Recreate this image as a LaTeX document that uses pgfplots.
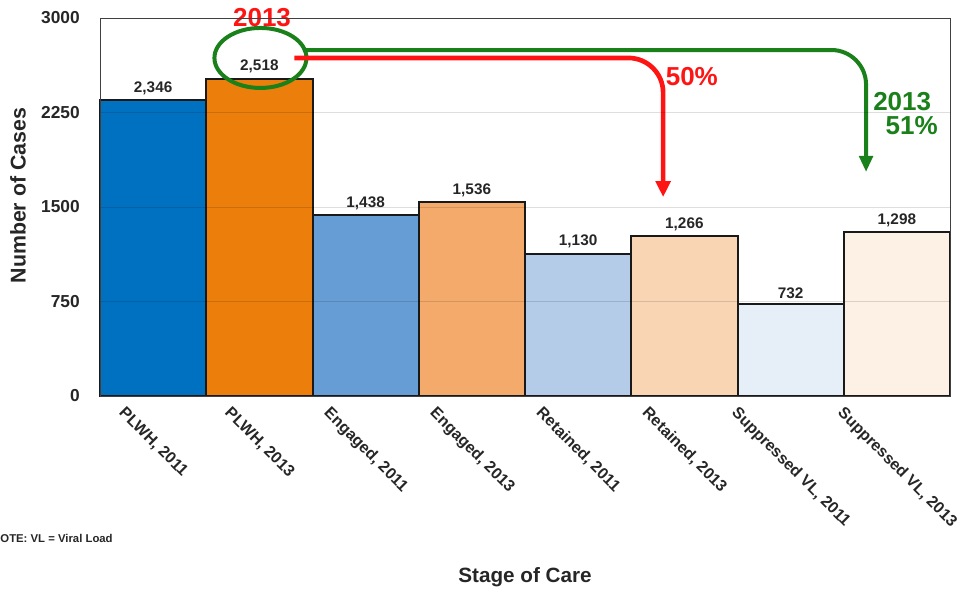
\documentclass[border=0pt]{standalone}
\usepackage{fontspec}
\setmainfont{Liberation Sans}
\usepackage{graphicx}
\usepackage{pgfplots}
\pgfplotsset{compat=1.18}
\usetikzlibrary{arrows.meta}
\definecolor{c1}{RGB}{0,112,192}
\definecolor{c2}{RGB}{236,126,12}
\definecolor{c3}{RGB}{102,157,212}
\definecolor{c4}{RGB}{244,170,106}
\definecolor{c5}{RGB}{180,204,232}
\definecolor{c6}{RGB}{250,213,180}
\definecolor{c7}{RGB}{230,238,248}
\definecolor{c8}{RGB}{253,240,228}
\definecolor{agreen}{RGB}{26,128,26}
\definecolor{ared}{RGB}{255,20,20}
\newcommand{\rl}[1]{\rotatebox{-45}{#1}}
\begin{document}
\begin{tikzpicture}[x=1pt,y=1pt]
\useasboundingbox (-75,-145.5) rectangle (650.25,297);
\begin{axis}[
  at={(0,0)}, anchor=south west,
  scale only axis, width=637.5pt, height=283.5pt,
  xmin=-0.5, xmax=7.5, ymin=0, ymax=3000,
  ybar, bar width=1, bar shift=0pt,
  xtick={0,...,7},
  xticklabels={{\rl{PLWH, 2011}},{\rl{PLWH, 2013}},{\rl{Engaged, 2011}},{\rl{Engaged, 2013}},{\rl{Retained, 2011}},{\rl{Retained, 2013}},{\rl{Suppressed VL, 2011}},{\rl{Suppressed VL, 2013}}},
  xticklabel style={anchor=north, inner sep=0pt, yshift=-7pt, font=\fontsize{12}{13}\selectfont\bfseries, text=black!85},
  ytick={0,750,1500,2250,3000},
  yticklabels={0,750,1500,2250,3000},
  yticklabel style={anchor=east, inner sep=0pt, xshift=-15pt, font=\fontsize{13}{14}\selectfont\bfseries, text=black!85},
  major tick length=0pt,
  ymajorgrids, grid style={black, opacity=0.13, line width=0.75pt},
  axis on top,
  clip=false,
  axis line style={black!75, line width=0.7pt},
  /pgf/number format/assume math mode=true,
  /pgf/number format/1000 sep={,},
  nodes near coords,
  nodes near coords style={font=\fontsize{11.5}{12}\selectfont\bfseries, text=black!85},
  ylabel={Number of Cases},
  ylabel style={at={(axis description cs:-0.0965,0.53)}, anchor=center, font=\fontsize{16}{17}\selectfont\bfseries, text=black!85},
  xlabel={Stage of Care},
  xlabel style={at={(axis description cs:0.5,0)}, anchor=center, yshift=-135.75pt, font=\fontsize{15.5}{16}\selectfont\bfseries, text=black!85},
  every axis plot/.append style={draw=black!90, line width=1.5pt},
]
\addplot[fill=c1] coordinates {(0,2346)};
\addplot[fill=c2] coordinates {(1,2518)};
\addplot[fill=c3] coordinates {(2,1438)};
\addplot[fill=c4] coordinates {(3,1536)};
\addplot[fill=c5] coordinates {(4,1130)};
\addplot[fill=c6] coordinates {(5,1266)};
\addplot[fill=c7] coordinates {(6,732)};
\addplot[fill=c8] coordinates {(7,1298)};

\draw[agreen, line width=3pt] (axis cs:1.01,2683) ellipse [x radius=34.5pt, y radius=22.5pt];
\draw[agreen, line width=3pt, rounded corners=26pt, -{Triangle[length=12pt,width=10pt]}]
  (axis cs:1.41,2746) -- (axis cs:6.71,2746) -- (axis cs:6.71,1778);
\draw[ared, line width=3.5pt, rounded corners=26pt, -{Triangle[length=12pt,width=11pt]}]
  (axis cs:1.33,2683) -- (axis cs:4.80,2683) -- (axis cs:4.80,1579);
\node[text=ared, font=\fontsize{19.5}{20}\selectfont\bfseries] at (axis cs:1.025,3004) {2013};
\node[text=ared, font=\fontsize{19.5}{20}\selectfont\bfseries] at (axis cs:5.07,2532) {50\%};
\node[text=agreen, font=\fontsize{19.5}{20}\selectfont\bfseries] at (axis cs:7.05,2333) {2013};
\node[text=agreen, font=\fontsize{19.5}{20}\selectfont\bfseries] at (axis cs:7.14,2143) {51\%};
\end{axis}
\node[anchor=west, inner sep=0pt, font=\fontsize{8.5}{9}\selectfont\bfseries, text=black!85] at (-81pt,-106.5pt) {NOTE: VL = Viral Load};
\end{tikzpicture}
\end{document}
